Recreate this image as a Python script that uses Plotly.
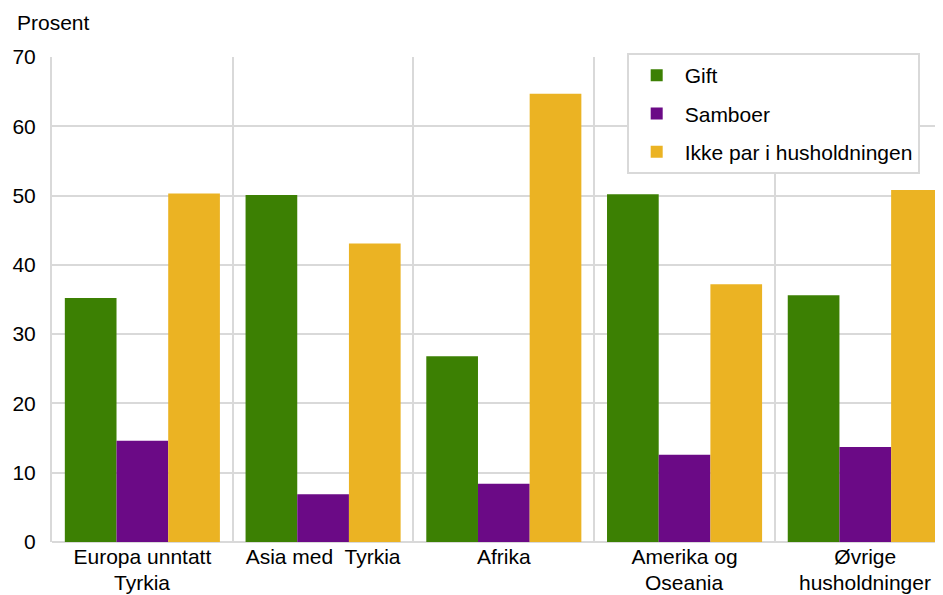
import plotly.graph_objects as go

categories = ["Europa unntatt", "Asia med\u00a0 Tyrkia", "Afrika", "Amerika og", "Øvrige"]
second_lines = ["Tyrkia", "", "", "Oseania", "husholdninger"]
gift = [35.2, 50.1, 26.8, 50.2, 35.6]
samboer = [14.6, 6.9, 8.4, 12.6, 13.7]
ikke_par = [50.3, 43.1, 64.7, 37.2, 50.8]

series = [
    ("Gift", gift, "#3c8003"),
    ("Samboer", samboer, "#6b0a86"),
    ("Ikke par i husholdningen", ikke_par, "#ebb323"),
]

fig = go.Figure()
for i, (name, vals, col) in enumerate(series):
    fig.add_trace(go.Bar(x=categories, y=vals, name=name, marker_color=col,
                         marker_line_width=0, legendgroup=str(i)))

font = dict(family="Liberation Sans, Arial, sans-serif", size=21, color="#000000")

annotations = [dict(text="Prosent", xref="paper", yref="paper", x=-37/891, y=1+35/485,
                    xanchor="left", yanchor="middle", showarrow=False, font=font)]
for cat, line2 in zip(categories, second_lines):
    if line2:
        annotations.append(dict(text=line2, x=cat, y=0, xref="x", yref="y",
                                xanchor="center", yanchor="middle", yshift=-40,
                                showarrow=False, font=font))

# page has an 8px body margin, so the figure is 8px smaller and offset
fig.update_layout(
    template="none",
    width=935, height=587,
    margin=dict(l=44, r=0, t=49, b=53, pad=0),
    paper_bgcolor="white", plot_bgcolor="white",
    font=font,
    barmode="group", bargap=0.142, bargroupgap=0,
    showlegend=True,
    legend=dict(x=0.645, y=1.008, xanchor="left", yanchor="top",
                bgcolor="white", bordercolor="#d9d9d9", borderwidth=2,
                traceorder="grouped", tracegroupgap=8, itemwidth=46, font=font),
    xaxis=dict(type="category", range=[-0.5, 4.43], tickson="boundaries", automargin=False,
               showgrid=True, gridcolor="#d9d9d9", gridwidth=2,
               ticks="outside", ticklen=3, tickcolor="rgba(0,0,0,0)", showline=False, tickfont=font),
    yaxis=dict(range=[0, 70], dtick=10, showgrid=True, gridcolor="#d9d9d9", gridwidth=2,
               automargin=False,
               zeroline=True, zerolinecolor="#d9d9d9", zerolinewidth=2,
               showline=True, linecolor="#d9d9d9", linewidth=2,
               ticks="outside", ticklen=10, tickcolor="rgba(0,0,0,0)", tickfont=font),
    annotations=annotations,
)

fig.write_html("out.html")
